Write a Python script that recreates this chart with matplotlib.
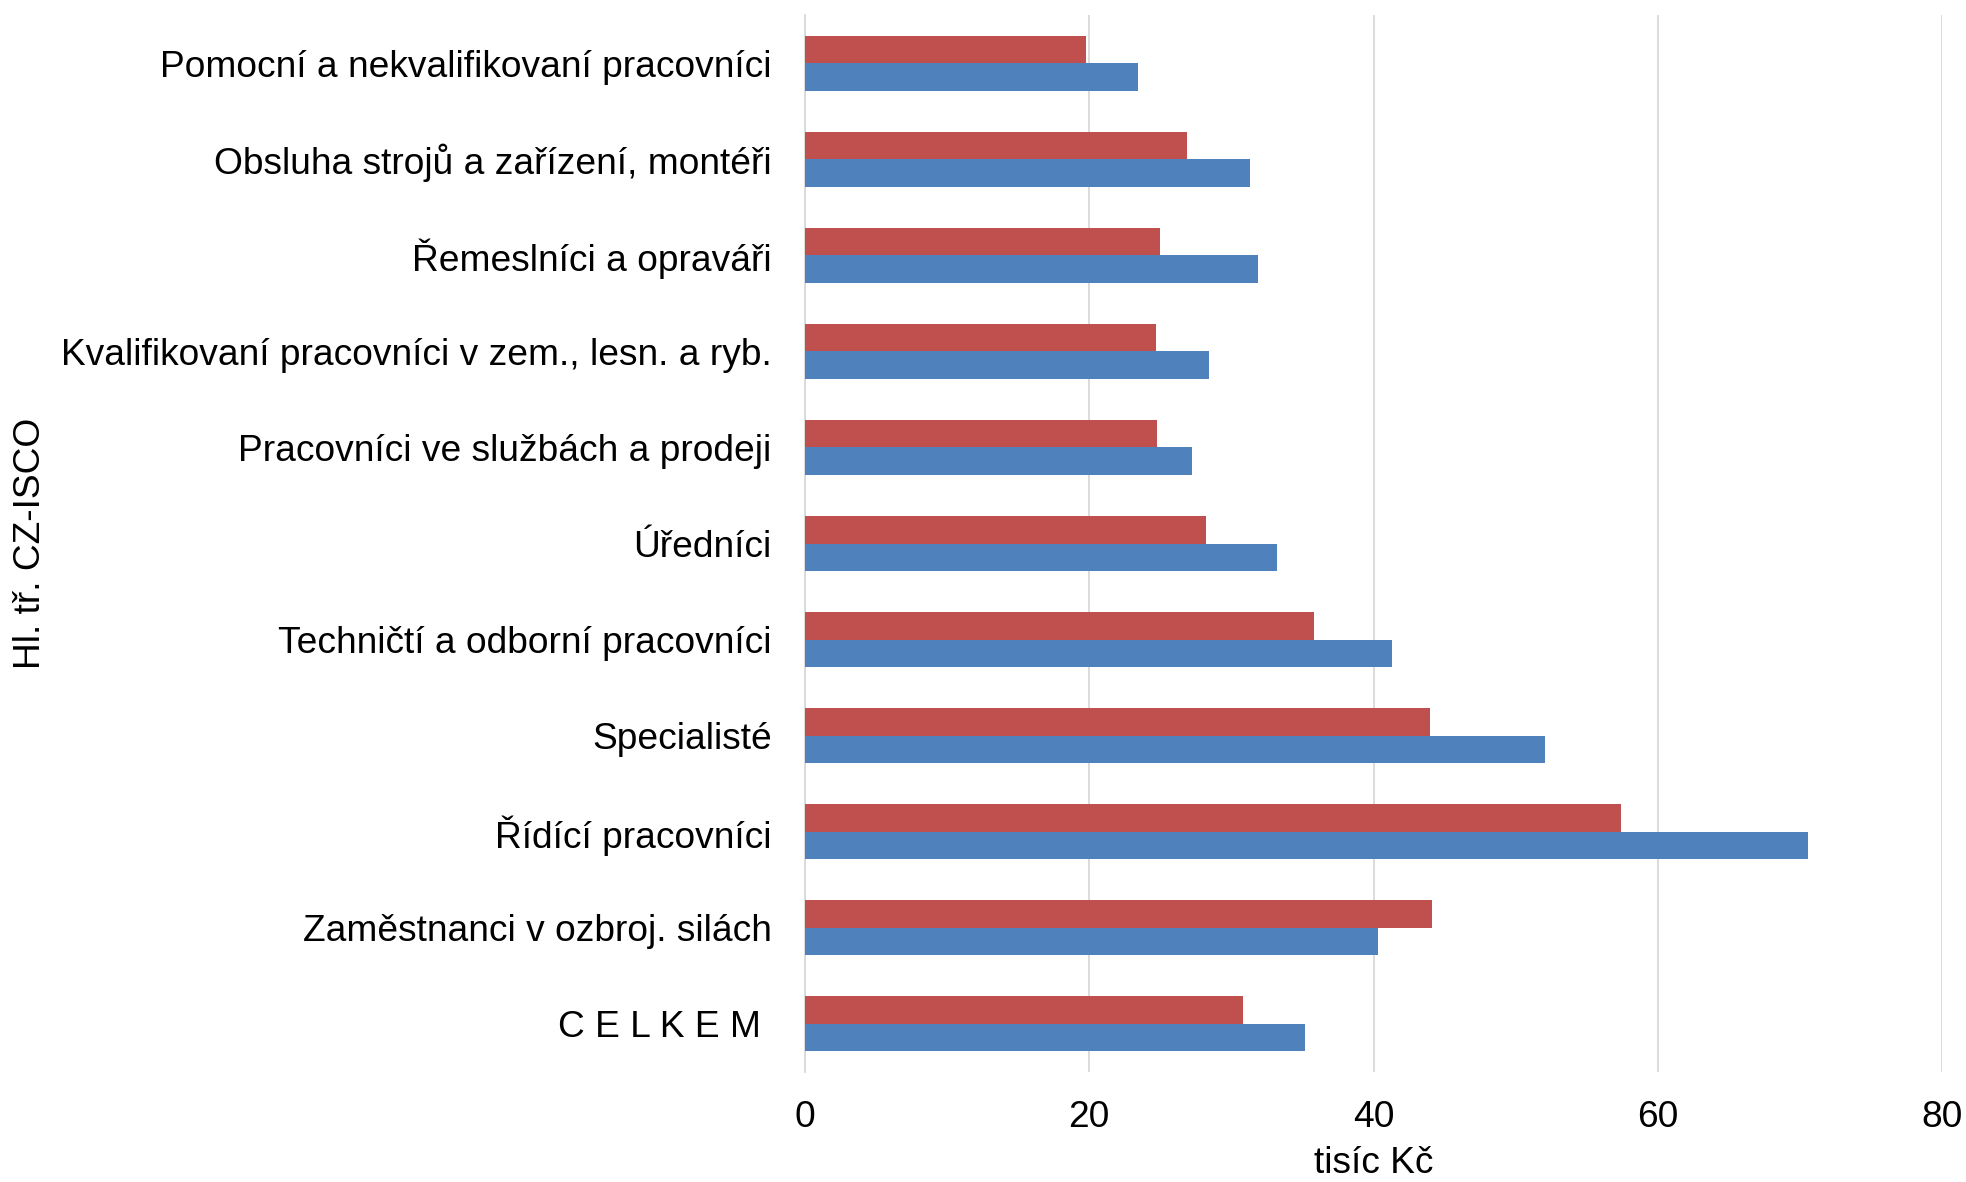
import matplotlib.pyplot as plt
import numpy as np

plt.rcParams['font.family'] = ['Liberation Sans', 'DejaVu Sans']

# Categories from bottom to top
categories = ['C E L K E M ', 'Zaměstnanci v ozbroj. silách', 'Řídící pracovníci', 'Specialisté',
              'Techničtí a odborní pracovníci', 'Úředníci', 'Pracovníci ve službách a prodeji',
              'Kvalifikovaní pracovníci v zem., lesn. a ryb.', 'Řemeslníci a opraváři',
              'Obsluha strojů a zařízení, montéři', 'Pomocní a nekvalifikovaní pracovníci']

# Blue series (lower bar in each group) and red series (upper bar), thousands CZK
blue_vals = [35.2, 40.3, 70.6, 52.1, 41.3, 33.2, 27.2, 28.4, 31.9, 31.3, 23.4]
red_vals = [30.8, 44.1, 57.4, 44.0, 35.8, 28.2, 24.8, 24.7, 25.0, 26.9, 19.8]

x_ticks = [0, 20, 40, 60, 80]

blue = '#4F81BD'
red = '#C0504D'

fig = plt.figure(figsize=(19.66, 11.82), dpi=100)
ax = fig.add_axes([805 / 1966, 1 - 1072 / 1182, (1942 - 805) / 1966, (1072 - 15) / 1182])

y = np.arange(len(categories))
h = 0.2865
ax.barh(y - h / 2, blue_vals, height=h, color=blue, zorder=3)
ax.barh(y + h / 2, red_vals, height=h, color=red, zorder=3)

ax.set_xlim(0, 80)
ax.set_ylim(-0.5, len(categories) - 0.5)
ax.set_xticks(x_ticks)
ax.set_yticks(y)
ax.set_yticklabels(categories)

ax.xaxis.grid(True, color='#D9D9D9', linewidth=1.3, zorder=0)
ax.set_axisbelow(True)
for side in ['top', 'right', 'bottom']:
    ax.spines[side].set_visible(False)
ax.spines['left'].set_color('#D9D9D9')
ax.spines['left'].set_linewidth(1.3)

ax.tick_params(axis='both', length=0, labelsize=26.7)
ax.tick_params(axis='y', pad=24)
ax.tick_params(axis='x', pad=20)

ax.set_xlabel('tisíc Kč', fontsize=26.7, labelpad=8)
fig.text(31 / 1966, 1 - 543 / 1182, 'Hl. tř. CZ-ISCO', rotation=90, fontsize=26.7, ha='center', va='center')

fig.savefig('out.png', dpi=100)
